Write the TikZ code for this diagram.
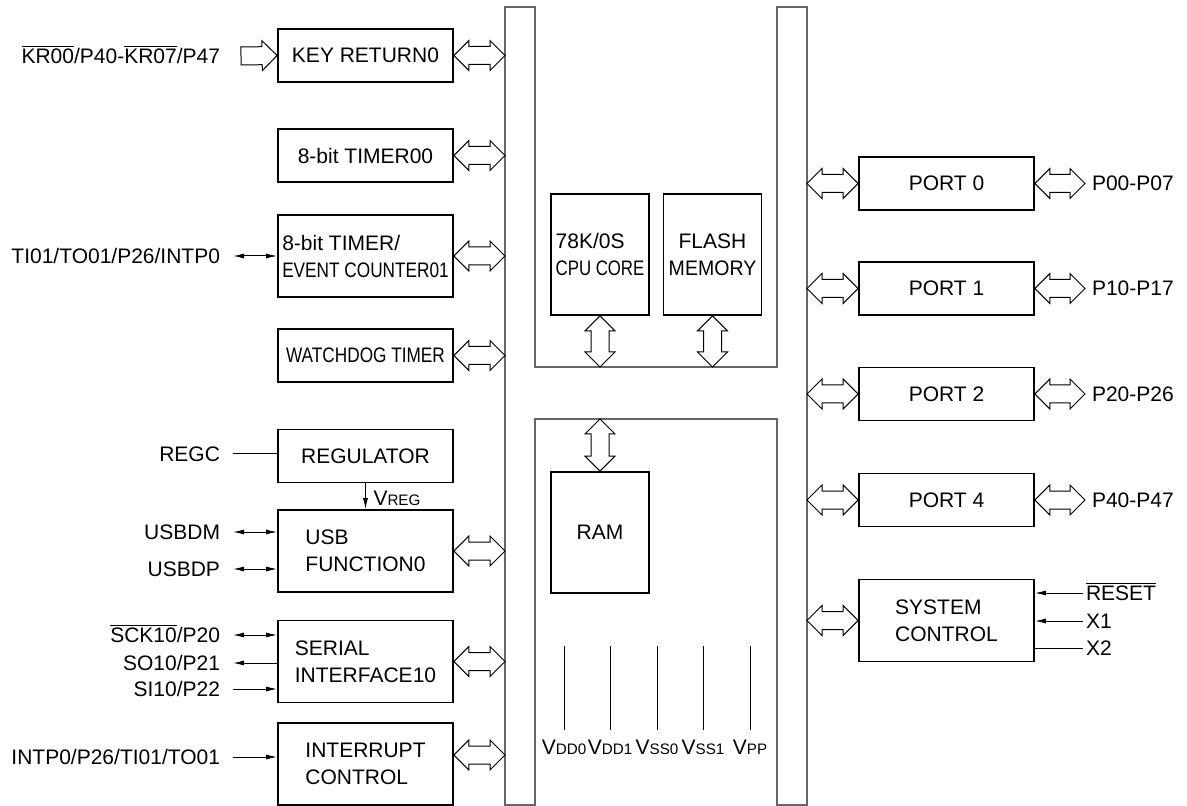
\documentclass[tikz,border=0pt]{standalone}
\usepackage{fontspec}
\setmainfont{Liberation Sans}
\usepackage{graphicx}
\usetikzlibrary{calc,arrows.meta}

% overline for active-low pins, small subscripts for supply pins
\newcommand{\ovl}[1]{$\overline{\mbox{#1}}$}
\newcommand{\vsub}[2]{#1{\fontsize{7.6pt}{8pt}\selectfont #2}}

% hollow bus arrows: head length, head half width, shaft half width
\newcommand{\arrhl}{7.5pt}
\newcommand{\arrhw}{7.5pt}
\newcommand{\arrsw}{4.5pt}
\newcommand{\busarrow}[2]{%
  \draw[hollow] (#1)
    -- ($(#1)!\arrhl!(#2)!\arrhw!90:(#2)$)
    -- ($(#1)!\arrhl!(#2)!\arrsw!90:(#2)$)
    -- ($(#2)!\arrhl!(#1)!\arrsw!-90:(#1)$)
    -- ($(#2)!\arrhl!(#1)!\arrhw!-90:(#1)$)
    -- (#2)
    -- ($(#2)!\arrhl!(#1)!\arrhw!90:(#1)$)
    -- ($(#2)!\arrhl!(#1)!\arrsw!90:(#1)$)
    -- ($(#1)!\arrhl!(#2)!\arrsw!-90:(#2)$)
    -- ($(#1)!\arrhl!(#2)!\arrhw!-90:(#2)$)
    -- cycle;}
\newcommand{\inarrow}[2]{%
  \draw[hollow] ($(#1)!\arrsw!90:(#2)$)
    -- ($(#2)!\arrhl!(#1)!\arrsw!-90:(#1)$)
    -- ($(#2)!\arrhl!(#1)!\arrhw!-90:(#1)$)
    -- (#2)
    -- ($(#2)!\arrhl!(#1)!\arrhw!90:(#1)$)
    -- ($(#2)!\arrhl!(#1)!\arrsw!90:(#1)$)
    -- ($(#1)!\arrsw!-90:(#2)$)
    -- cycle;}

\begin{document}
\begin{tikzpicture}[x=0.5pt,y=-0.5pt,line width=0.5pt,
    font=\fontsize{10.5pt}{13.5pt}\selectfont,
    >={Latex[length=5.5pt,width=2.5pt]},
    blk/.style={draw, line width=0.9pt, minimum width=87.5pt, minimum height=26.5pt, inner sep=2pt},
    tall/.style={blk, minimum height=41pt, align=left},
    core/.style={draw, line width=0.9pt, minimum width=49pt, minimum height=60.5pt, inner sep=2pt, align=left},
    hollow/.style={draw, line width=0.5pt, fill=white},
    sig/.style={inner sep=0pt, outer xsep=6.5pt, text height=7.5pt, text depth=0pt},
    pwr/.style={inner sep=0pt, outer ysep=5pt, text height=7.5pt, text depth=0pt},
    bus/.style={draw=black!60, line width=0.6pt}]
    \useasboundingbox (0,0) rectangle (1187,806);

    % Draw internal bus
    \draw[bus] (505,7) -- (535,7) -- (535,367) -- (777,367) -- (777,7) -- (807,7)
        -- (807,805) -- (777,805) -- (777,419) -- (535,419) -- (535,805) -- (505,805) -- cycle;
    \coordinate (lbw) at (505,0);   % left bus, outer edge
    \coordinate (rbe) at (807,0);   % right bus, outer edge
    \coordinate (upper) at (0,367); % floor of upper bay
    \coordinate (lower) at (0,419); % roof of lower bay
    \coordinate (pwrtop) at (0,646);

    % Left blocks
    \node[blk] (key) at (365.5,55.5) {KEY RETURN0};
    \node[blk] (tmr0) at (365.5,155.5) {8-bit TIMER00};
    \node[tall] (tmr1) at (365.5,256) {8-bit TIMER/\\\scalebox{0.82}[1]{EVENT COUNTER01}};
    \node[blk] (wdt) at (365.5,355.5) {\scalebox{0.82}[1]{WATCHDOG TIMER}};
    \node[blk] (reg) at (365.5,456) {REGULATOR};
    \node[tall] (usb) at (365.5,551) {USB\\FUNCTION0};
    \node[tall] (sio) at (365.5,661.5) {SERIAL\\INTERFACE10};
    \node[tall] (intc) at (365.5,764) {INTERRUPT\\CONTROL};

    % Core blocks
    \node[core] (cpu) at (600,254.5) {78K/0S\\\scalebox{0.8}[1]{CPU CORE}};
    \node[core, align=center] (flash) at (712.5,254.5) {FLASH\\\scalebox{0.93}[1]{MEMORY}};
    \node[core, align=center] (ram) at (600,532.5) {RAM};

    % Right blocks
    \node[blk] (p0) at (946.5,183.5) {PORT 0};
    \node[blk] (p1) at (946.5,288.5) {PORT 1};
    \node[blk] (p2) at (946.5,394) {PORT 2};
    \node[blk] (p4) at (946.5,500) {PORT 4};
    \node[tall] (sys) at (946.5,620.5) {SYSTEM\\CONTROL};

    % Pin labels, left side
    \node[sig, anchor=east, outer xsep=10.5pt] (kr) at (241,56) {\ovl{KR00}/P40-\ovl{KR07}/P47};
    \node[sig, anchor=east] (ti) at (233,256) {TI01/TO01/P26/INTP0};
    \node[sig, anchor=east] (regc) at (233,454) {REGC};
    \node[sig, anchor=east] (usbdm) at (233,532) {USBDM};
    \node[sig, anchor=east] (usbdp) at (233,569) {USBDP};
    \node[sig, anchor=east] (sck) at (233,635) {\ovl{SCK10}/P20};
    \node[sig, anchor=east] (so) at (233,663) {SO10/P21};
    \node[sig, anchor=east] (si) at (233,689) {SI10/P22};
    \node[sig, anchor=east] (intp) at (233,757) {INTP0/P26/TI01/TO01};
    \node[anchor=west, inner sep=0pt] (vreg) at (373,498) {\vsub{V}{REG}};

    % Pin labels, right side
    \node[sig, anchor=west, outer xsep=3.5pt] (pp0) at (1085,183.5) {P00-P07};
    \node[sig, anchor=west, outer xsep=3.5pt] (pp1) at (1085,288.5) {P10-P17};
    \node[sig, anchor=west, outer xsep=3.5pt] (pp2) at (1085,394) {P20-P26};
    \node[sig, anchor=west, outer xsep=3.5pt] (pp4) at (1085,500) {P40-P47};
    \node[sig, anchor=west, outer xsep=1.5pt] (rst) at (1083,593) {\ovl{RESET}};
    \node[sig, anchor=west, outer xsep=1.5pt] (x1) at (1083,621) {X1};
    \node[sig, anchor=west, outer xsep=1.5pt] (x2) at (1083,648) {X2};

    % Supply pins
    \node[pwr] (vdd0) at (564,747) {\vsub{V}{DD0}};
    \node[pwr] (vdd1) at (610,747) {\vsub{V}{DD1}};
    \node[pwr] (vss0) at (657,747) {\vsub{V}{SS0}};
    \node[pwr] (vss1) at (703,747) {\vsub{V}{SS1}};
    \node[pwr] (vpp) at (750,747) {\vsub{V}{PP}};
    \draw (vdd0.north) -- (vdd0.north |- pwrtop);
    \draw (vdd1.north) -- (vdd1.north |- pwrtop);
    \draw (vss0.north) -- (vss0.north |- pwrtop);
    \draw (vss1.north) -- (vss1.north |- pwrtop);
    \draw (vpp.north) -- (vpp.north |- pwrtop);

    % Bus arrows
    \coordinate (intcb) at ([yshift=4.5pt]intc.east);
    \inarrow{kr.east}{key.west}
    \busarrow{key.east}{key.east -| lbw}
    \busarrow{tmr0.east}{tmr0.east -| lbw}
    \busarrow{tmr1.east}{tmr1.east -| lbw}
    \busarrow{wdt.east}{wdt.east -| lbw}
    \busarrow{usb.east}{usb.east -| lbw}
    \busarrow{sio.east}{sio.east -| lbw}
    \busarrow{intcb}{intcb -| lbw}
    \busarrow{cpu.south}{cpu.south |- upper}
    \busarrow{flash.south}{flash.south |- upper}
    \busarrow{ram.north}{ram.north |- lower}
    \busarrow{p0.west -| rbe}{p0.west}
    \busarrow{p1.west -| rbe}{p1.west}
    \busarrow{p2.west -| rbe}{p2.west}
    \busarrow{p4.west -| rbe}{p4.west}
    \busarrow{sys.west -| rbe}{sys.west}
    \busarrow{p0.east}{pp0.west}
    \busarrow{p1.east}{pp1.west}
    \busarrow{p2.east}{pp2.west}
    \busarrow{p4.east}{pp4.west}

    % Pin lines
    \draw[<->] (ti.east) -- (ti.east -| tmr1.west);
    \draw (regc.east) -- (regc.east -| reg.west);
    \draw[->] (reg.south) -- (usb.north);
    \draw[<->] (usbdm.east) -- (usbdm.east -| usb.west);
    \draw[<->] (usbdp.east) -- (usbdp.east -| usb.west);
    \draw[<->] (sck.east) -- (sck.east -| sio.west);
    \draw[<-] (so.east) -- (so.east -| sio.west);
    \draw[->] (si.east) -- (si.east -| sio.west);
    \draw[->] (intp.east) -- (intp.east -| intc.west);
    \draw[->] (rst.west) -- (rst.west -| sys.east);
    \draw[->] (x1.west) -- (x1.west -| sys.east);
    \draw (x2.west) -- (x2.west -| sys.east);
\end{tikzpicture}
\end{document}
